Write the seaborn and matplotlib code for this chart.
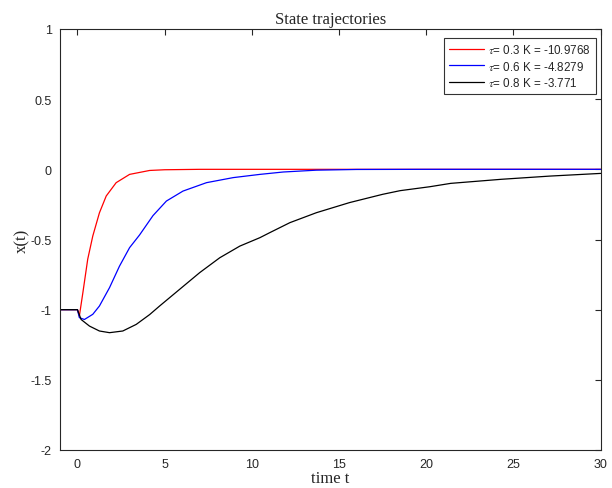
import numpy as np
import pandas as pd
import seaborn as sns
import matplotlib
matplotlib.use("Agg")
import matplotlib.pyplot as plt

# values
t_red = [-1, 0, 0.11, 0.31, 0.59, 0.88, 1.26, 1.65, 2.22, 2.99, 4.14, 5.0, 7.0, 10, 20, 30]
x_red = [-1, -1, -1.045, -0.88, -0.64, -0.475, -0.31, -0.19, -0.095, -0.036, -0.008, -0.003, 0, 0, 0, 0]

t_blue = [-1, 0, 0.11, 0.4, 0.88, 1.26, 1.84, 2.41, 2.99, 3.56, 4.33, 5.1, 6.05, 7.4, 8.93,
          10.46, 11.8, 13.7, 16, 20, 30]
x_blue = [-1, -1, -1.057, -1.07, -1.033, -0.974, -0.843, -0.69, -0.558, -0.468, -0.33, -0.226,
          -0.155, -0.095, -0.059, -0.036, -0.019, -0.006, -0.001, 0, 0]

t_black = [-1, 0, 0.21, 0.69, 1.26, 1.84, 2.6, 3.37, 4.14, 4.71, 5.86, 7.01, 8.16, 9.31, 10.46,
           11.03, 12.18, 13.7, 15.6, 17.5, 18.5, 20.2, 21.4, 24.3, 27.1, 30]
x_black = [-1, -1, -1.07, -1.117, -1.152, -1.164, -1.152, -1.105, -1.035, -0.974, -0.855, -0.736,
           -0.63, -0.547, -0.487, -0.451, -0.38, -0.309, -0.237, -0.178, -0.152, -0.124, -0.1,
           -0.071, -0.048, -0.029]

labels = [r"$\tau$= 0.3 K = -10.9768", r"$\tau$= 0.6 K = -4.8279", r"$\tau$= 0.8 K = -3.771"]
colors = ["#ff0000", "#0000ff", "#000000"]

df = pd.concat([
    pd.DataFrame({"t": t_red, "x": x_red, "case": labels[0]}),
    pd.DataFrame({"t": t_blue, "x": x_blue, "case": labels[1]}),
    pd.DataFrame({"t": t_black, "x": x_black, "case": labels[2]}),
])

sns.set_style("white")
plt.rcParams["font.family"] = ["Liberation Sans", "DejaVu Sans"]
plt.rcParams["mathtext.fontset"] = "stix"

fig = plt.figure(figsize=(6.12, 4.89), dpi=100)
ax = fig.add_axes([60 / 612, 38 / 489, 540.7 / 612, 421 / 489])

sns.lineplot(data=df, x="t", y="x", hue="case", hue_order=labels,
             palette=dict(zip(labels, colors)), estimator=None, sort=False,
             linewidth=0.9, ax=ax)

ax.set_xlim(-1, 30)
ax.set_ylim(-2, 1)
ax.set_xticks([0, 5, 10, 15, 20, 25, 30])
ax.set_yticks([-2, -1.5, -1, -0.5, 0, 0.5, 1])
ax.set_yticklabels(["-2", "-1.5", "-1", "-0.5", "0", "0.5", "1"])
ax.tick_params(direction="in", length=4, width=0.8, top=True, right=True,
               labelsize=9, colors="#262626", pad=6)
for s in ax.spines.values():
    s.set_linewidth(0.8)
    s.set_color("#262626")

ax.set_title("State trajectories", family="Liberation Serif", fontsize=12, pad=4)
ax.set_xlabel("time t", family="Liberation Serif", fontsize=12, labelpad=0)
ax.set_ylabel("x(t)", family="Liberation Serif", fontsize=12, labelpad=0)

leg = ax.legend(loc="upper right", bbox_to_anchor=(0.9913, 0.9786), borderaxespad=0,
                fontsize=8.4, frameon=True, fancybox=False, edgecolor="black",
                handlelength=3.0, handletextpad=0.35, borderpad=0.45, labelspacing=0.28)
leg.get_frame().set_linewidth(0.8)

fig.savefig("out.png", dpi=100)
